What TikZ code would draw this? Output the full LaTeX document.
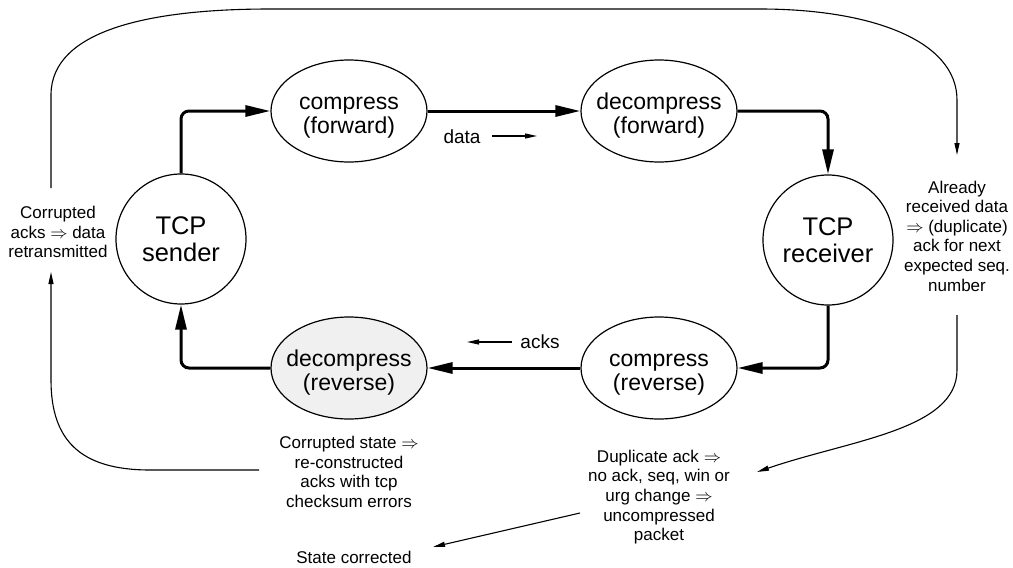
\documentclass[tikz,border=0pt]{standalone}
\usepackage{fontspec}
\setmainfont{Liberation Sans}
\usetikzlibrary{arrows.meta,shapes.geometric}
\newcommand\ellstrut{\rule{0pt}{25pt}}
\begin{document}
\begin{tikzpicture}[x=1pt,y=-1pt,
  proc/.style={ellipse,draw,line width=1.2pt,minimum width=156pt,minimum height=102pt,inner xsep=-8pt,inner ysep=0pt,align=center,font=\fontsize{23}{24}\selectfont},
  tcp/.style={circle,draw,line width=1.2pt,minimum size=130pt,inner sep=0pt,align=center,font=\fontsize{25.5}{27}\selectfont},
  note/.style={inner sep=0pt,align=center,font=\fontsize{17}{19.6}\selectfont},
  lbl/.style={inner sep=0pt,font=\fontsize{19}{22}\selectfont},
  flow/.style={line width=3pt,rounded corners=8pt,-{Triangle[length=25pt,width=11pt]}},
  thinarr/.style={line width=1.1pt,-{Triangle[length=12pt,width=5pt]}},
]
\useasboundingbox (0,0) rectangle (1013,568);

% main nodes
\node[tcp] (snd) at (181,239) {TCP\\sender};
\node[tcp] (rcv) at (828,240) {TCP\\receiver};
\node[proc] (cf) at (349,111) {\ellstrut compress\\(forward)};
\node[proc] (df) at (659,111) {\ellstrut decompress\\(forward)};
\node[proc,fill=black!6] (dr) at (349,368) {\ellstrut decompress\\(reverse)};
\node[proc] (cr) at (659,368) {\ellstrut compress\\(reverse)};

% notes
\node[note] (n1) at (58,232) {Corrupted\\acks $\Rightarrow$ data\\retransmitted};
\node[note] (n2) at (957,236) {Already\\received data\\$\Rightarrow$ (duplicate)\\ack for next\\expected seq.\\number};
\node[note] (n3) at (349,472) {Corrupted state $\Rightarrow$\\re-constructed\\acks with tcp\\checksum errors};
\node[note] (n4) at (659,497) {Duplicate ack $\Rightarrow$\\no ack, seq, win or\\urg change $\Rightarrow$\\uncompressed\\packet};
\node[note] (n5) at (354,557) {State corrected};

% direction labels
\node[lbl] (ldata) at (462,137) {data};
\node[lbl] (lacks) at (540,342) {acks};
\coordinate (da1) at (492,136);
\coordinate (da2) at (537,136);
\coordinate (aa1) at (512,342);
\coordinate (aa2) at (467,342);
\draw[thinarr] (da1) -- (da2);
\draw[thinarr] (aa1) -- (aa2);

% main flow
\draw[flow] (snd.north) |- (cf.west);
\draw[flow] (cf.east) -- (df.west);
\draw[flow] (df.east) -| (rcv.north);
\draw[flow] (rcv.south) |- (cr.east);
\draw[flow] (cr.west) -- (dr.east);
\draw[flow] (dr.west) -| (snd.south);

% feedback connectors
\coordinate (n1top) at (51,188);
\coordinate (n1bot) at (51,272);
\coordinate (n2top) at (957,155);
\coordinate (n2bot) at (957,315);
\coordinate (n3left) at (259,470);
\coordinate (n4right) at (757,472);
\coordinate (n4left) at (580,513);
\coordinate (n5right) at (433,547);

\draw[thinarr] (n1top) -- (51,95) .. controls (51,30) and (150,9) .. (270,9)
  -- (760,9) .. controls (870,9) and (957,40) .. (957,100) -- (n2top);
\draw[thinarr] (n2bot) -- (957,370) .. controls (957,430) and (850,440) .. (n4right);
\draw[thinarr] (n4left) -- (n5right);
\draw[thinarr] (n3left) -- (150,470) .. controls (80,470) and (51,440) .. (51,380) -- (n1bot);
\end{tikzpicture}
\end{document}
